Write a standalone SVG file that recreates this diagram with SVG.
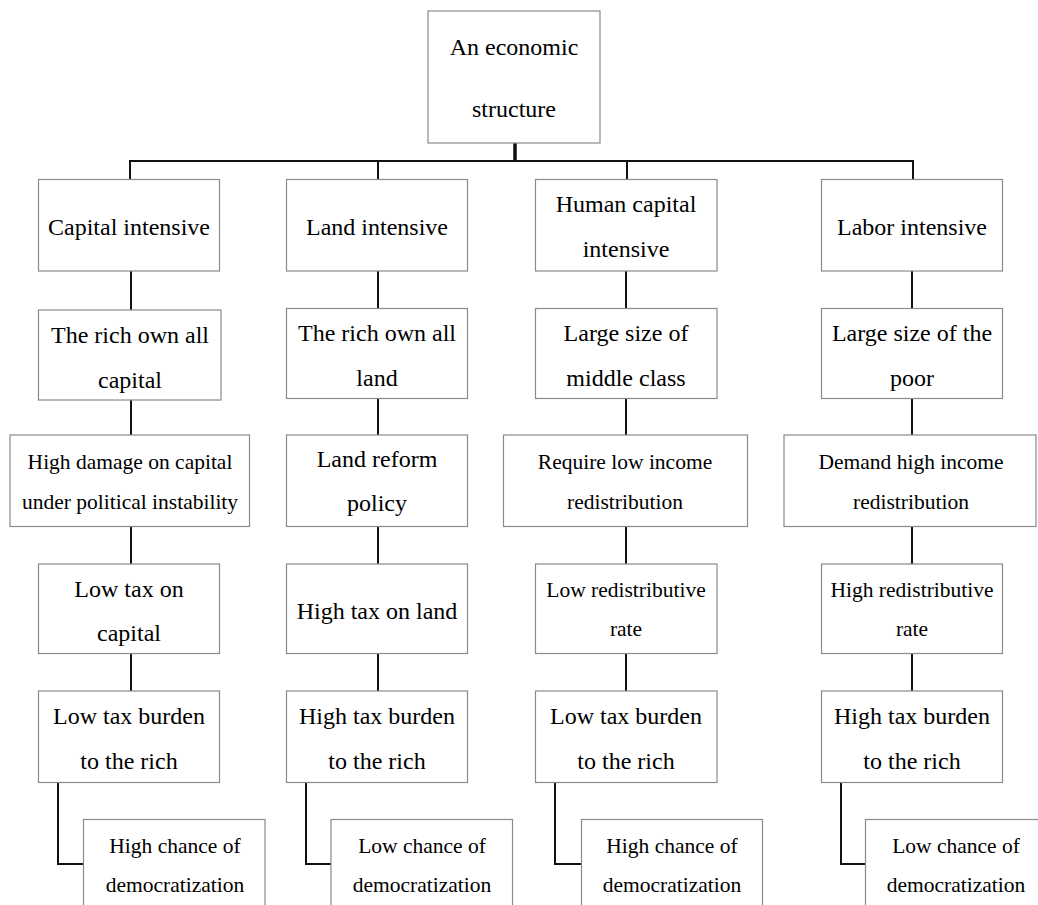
<svg xmlns="http://www.w3.org/2000/svg" width="1038" height="905" viewBox="0 0 1038 905">
<style>
.box{fill:#fff;stroke:#8a8a8a;stroke-width:1.2}
text{font-family:'Liberation Serif','Tinos','Times New Roman','Nimbus Roman','DejaVu Serif',serif;font-size:24px;fill:#000;text-anchor:middle}
.s{font-size:21.5px}
.c{fill:none;stroke:#111;stroke-width:2}
</style>
<rect width="1038" height="905" fill="#fff"/>
<g id="connectors">
<path class="c" d="M515 143V161" style="stroke-width:3.5"/>
<path class="c" d="M130 179V161H913V179M378 161V179M627 161V179"/>
<path class="c" d="M131 271V310M378 271V308M626 271V308M912 271V308"/>
<path class="c" d="M131 400V435M378 398V435M626 398V435M912 398V435"/>
<path class="c" d="M131 527V564M378 527V564M626 527V564M912 527V564"/>
<path class="c" d="M131 653V691M378 653V691M626 653V691M912 653V691"/>
<path class="c" d="M58 782V864H83M306 782V864H331M555 782V864H581M841 782V864H865"/>
</g>
<g id="root"><rect class="box" x="428" y="11" width="172" height="132"/><text x="514" y="55">An economic</text><text x="514" y="117">structure</text></g>
<g id="c1r1"><rect class="box" x="38.5" y="179.5" width="181" height="91.5"/><text x="129" y="235">Capital intensive</text></g>
<g id="c2r1"><rect class="box" x="286.5" y="179.5" width="181" height="91.5"/><text x="377" y="235">Land intensive</text></g>
<g id="c3r1"><rect class="box" x="535.5" y="179.5" width="181.5" height="91.5"/><text x="626" y="212">Human capital</text><text x="626" y="257">intensive</text></g>
<g id="c4r1"><rect class="box" x="821.5" y="179.5" width="181" height="91.5"/><text x="912" y="235">Labor intensive</text></g>
<g id="c1r2"><rect class="box" x="38.5" y="310" width="182.5" height="90"/><text x="130" y="343">The rich own all</text><text x="130" y="388">capital</text></g>
<g id="c2r2"><rect class="box" x="286.5" y="308.5" width="181" height="90"/><text x="377" y="341">The rich own all</text><text x="377" y="386">land</text></g>
<g id="c3r2"><rect class="box" x="535.5" y="308.5" width="181.5" height="90"/><text x="626" y="341">Large size of</text><text x="626" y="386">middle class</text></g>
<g id="c4r2"><rect class="box" x="821.5" y="308.5" width="181" height="90"/><text x="912" y="341">Large size of the</text><text x="912" y="386">poor</text></g>
<g id="c1r3"><rect class="box" x="10" y="435" width="239.5" height="91.5"/><text class="s" x="130" y="469">High damage on capital</text><text class="s" x="130" y="509">under political instability</text></g>
<g id="c2r3"><rect class="box" x="286.5" y="435" width="181" height="91.5"/><text x="377" y="467">Land reform</text><text x="377" y="511">policy</text></g>
<g id="c3r3"><rect class="box" x="503.5" y="435" width="244" height="91.5"/><text class="s" x="625" y="469">Require low income</text><text class="s" x="625" y="509">redistribution</text></g>
<g id="c4r3"><rect class="box" x="784" y="435" width="252" height="91.5"/><text class="s" x="911" y="469">Demand high income</text><text class="s" x="911" y="509">redistribution</text></g>
<g id="c1r4"><rect class="box" x="38.5" y="564" width="181" height="89.5"/><text x="129" y="597">Low tax on</text><text x="129" y="641">capital</text></g>
<g id="c2r4"><rect class="box" x="286.5" y="564" width="181" height="89.5"/><text x="377" y="619">High tax on land</text></g>
<g id="c3r4"><rect class="box" x="535.5" y="564" width="181.5" height="89.5"/><text class="s" x="626" y="597">Low redistributive</text><text class="s" x="626" y="636">rate</text></g>
<g id="c4r4"><rect class="box" x="821.5" y="564" width="181" height="89.5"/><text class="s" x="912" y="597">High redistributive</text><text class="s" x="912" y="636">rate</text></g>
<g id="c1r5"><rect class="box" x="38.5" y="691" width="181" height="91.5"/><text x="129" y="724">Low tax burden</text><text x="129" y="769">to the rich</text></g>
<g id="c2r5"><rect class="box" x="286.5" y="691" width="181" height="91.5"/><text x="377" y="724">High tax burden</text><text x="377" y="769">to the rich</text></g>
<g id="c3r5"><rect class="box" x="535.5" y="691" width="181.5" height="91.5"/><text x="626" y="724">Low tax burden</text><text x="626" y="769">to the rich</text></g>
<g id="c4r5"><rect class="box" x="821.5" y="691" width="181" height="91.5"/><text x="912" y="724">High tax burden</text><text x="912" y="769">to the rich</text></g>
<g id="c1r6"><rect class="box" x="83.5" y="819.5" width="181.5" height="100"/><text class="s" x="175" y="853">High chance of</text><text class="s" x="175" y="892">democratization</text></g>
<g id="c2r6"><rect class="box" x="331" y="819.5" width="181.5" height="100"/><text class="s" x="422" y="853">Low chance of</text><text class="s" x="422" y="892">democratization</text></g>
<g id="c3r6"><rect class="box" x="581.5" y="819.5" width="181" height="100"/><text class="s" x="672" y="853">High chance of</text><text class="s" x="672" y="892">democratization</text></g>
<g id="c4r6"><rect class="box" x="865.5" y="819.5" width="181" height="100"/><text class="s" x="956" y="853">Low chance of</text><text class="s" x="956" y="892">democratization</text></g>
</svg>
